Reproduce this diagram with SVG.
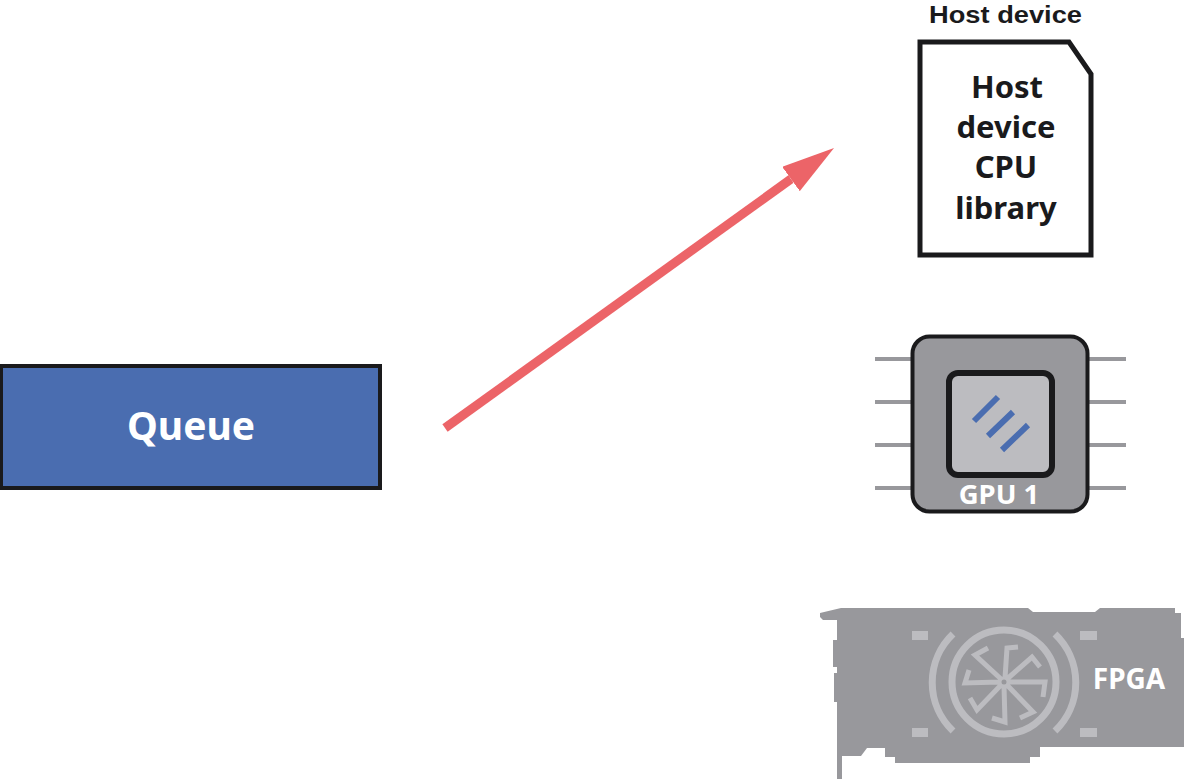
<svg xmlns="http://www.w3.org/2000/svg" width="1184" height="779" viewBox="0 0 1184 779">
<defs>
<style>
text{font-family:"Noto Sans","Open Sans","Liberation Sans",sans-serif;font-weight:700;text-anchor:middle}
.dark{fill:#1a1a1c}
.pin{stroke:#98989c;stroke-width:4;fill:none}
.blue{stroke:#4a6db0;stroke-width:6;fill:none}
.lt{stroke:#bcbcc0;fill:none}
</style>
<marker id="head" markerUnits="userSpaceOnUse" markerWidth="54" markerHeight="30" refX="0" refY="15" orient="auto">
<path d="M0 0L53 15L0 30Z" fill="#ec6468"/>
</marker>
</defs>
<rect width="1184" height="779" fill="#fff"/>
<g id="connectors">
<path d="M445 428L791 179" stroke="#ec6468" stroke-width="9" fill="none" marker-end="url(#head)"/>
</g>
<g id="queue">
<rect x="1" y="366" width="379" height="122" fill="#4a6db0" stroke="#1a1a1c" stroke-width="4"/>
<text x="191" y="440" font-size="39" fill="#fff">Queue</text>
</g>
<g id="host-device">
<text x="1005.500" y="22.500" font-size="24.800" class="dark" style="font-family:'Liberation Sans',sans-serif" textLength="153" lengthAdjust="spacingAndGlyphs">Host device</text>
<path d="M920 42H1069L1091 74V255H920Z" fill="#fff" stroke="#1a1a1c" stroke-width="5"/>
<text font-size="31" class="dark" x="1007" y="98">Host</text>
<text font-size="31" class="dark" x="1006" y="138">device</text>
<text font-size="31" class="dark" x="1006" y="178">CPU</text>
<text font-size="31" class="dark" x="1006" y="219">library</text>
</g>
<g id="gpu-1">
<path class="pin" d="M875 359H912M875 402H912M875 445H912M875 488H912M1089 359H1126M1089 402H1126M1089 445H1126M1089 488H1126"/>
<rect x="912.500" y="336.500" width="175" height="175" rx="17" fill="#98989c" stroke="#1a1a1c" stroke-width="4"/>
<rect x="949" y="373" width="103" height="102" rx="9" fill="#bcbcc0" stroke="#1a1a1c" stroke-width="6"/>
<path class="blue" d="M974 421L998 397M988 436L1013 412M1002 450L1028 425"/>
<text x="999" y="504" font-size="27.500" fill="#fff">GPU 1</text>
</g>
<g id="fpga">
<path d="M820 613L841 608H1028L1033 612H1095L1100 608H1175V613H1181V638H1184V747H1040V757H1030V763H895V757H885V748H867L861 756H842V779H837V702H834V673H837V667H833V640H837V620H823L820 617Z" fill="#98989c"/>
<g fill="#bcbcc0">
<rect x="912" y="631" width="16" height="9"/>
<rect x="1080" y="631" width="17" height="9"/>
<rect x="912" y="728" width="16" height="9"/>
<rect x="1080" y="728" width="17" height="9"/>
</g>
<circle class="lt" cx="1004" cy="682" r="52" stroke-width="7"/>
<path class="lt" stroke-width="7" d="M953 634A67 67 0 0 0 953 731M1055 634A67 67 0 0 1 1055 731"/>
<circle class="lt" cx="1004" cy="682" r="4" stroke-width="3"/>
<path class="lt" stroke-width="5" d="M1005 678L1007 648L1018 647M1007 679L1032 657L1040 667M1008 682L1045 682L1043 697M1007 685L1033 712L1020 718M1004 686L1005 722L992 718M1001 685L977 710L970 698M1000 682L965 683L969 670M1001 679L975 655L988 648"/>
<text x="1129" y="689" font-size="28" fill="#fff">FPGA</text>
</g>
</svg>
